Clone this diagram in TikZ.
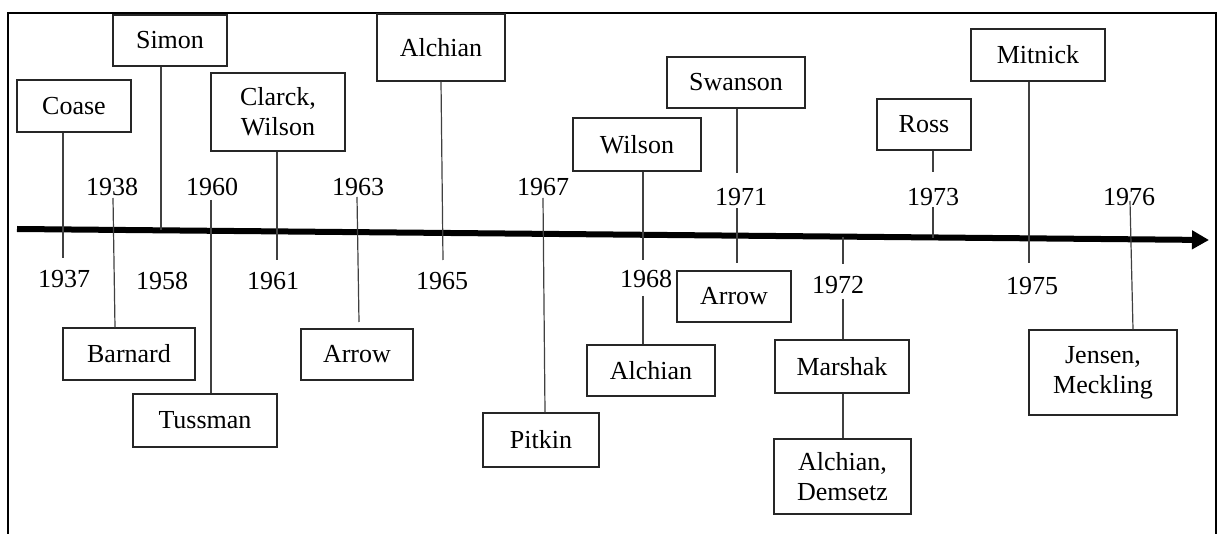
\documentclass[tikz,border=0pt]{standalone}
\usepackage{fontspec}
\setmainfont{Liberation Serif}
\usetikzlibrary{arrows.meta}
\begin{document}
\begin{tikzpicture}[x=1pt,y=-1pt,
  box/.style={draw=black!85, line width=1.2pt, inner sep=0pt, align=center,
              font=\fontsize{26}{30}\selectfont},
  yr/.style={inner sep=0pt, anchor=base, font=\fontsize{26}{30}\selectfont},
  link/.style={draw=black!75, line width=1.2pt}]
\useasboundingbox (0,0) rectangle (1218,534);

% outer frame (open at the bottom)
\draw[line width=2pt] (8,534) -- (8,13) -- (1216,13) -- (1216,534);

% time axis
\coordinate (tlA) at (17,229);
\coordinate (tlB) at (1209,240);
\draw[line width=6pt, -{Triangle[length=17pt,width=18pt]}] (tlA) -- (tlB);

% boxes above the axis
\node[box, minimum width=114pt, minimum height=52pt] (coase)    at (74,106)    {Coase};
\node[box, minimum width=114pt, minimum height=51pt] (simon)    at (170,40.5)  {Simon};
\node[box, minimum width=134pt, minimum height=78pt] (clarck)   at (278,112)   {Clarck,\\Wilson};
\node[box, minimum width=128pt, minimum height=67pt] (alchianA) at (441,47.5)  {Alchian};
\node[box, minimum width=128pt, minimum height=53pt] (wilson)   at (637,144.5) {Wilson};
\node[box, minimum width=138pt, minimum height=51pt] (swanson)  at (736,82.5)  {Swanson};
\node[box, minimum width=94pt,  minimum height=51pt] (ross)     at (924,124.5) {Ross};
\node[box, minimum width=134pt, minimum height=52pt] (mitnick)  at (1038,55)   {Mitnick};

% boxes below the axis
\node[box, minimum width=132pt, minimum height=52pt] (barnard)  at (129,354)   {Barnard};
\node[box, minimum width=144pt, minimum height=53pt] (tussman)  at (205,420.5) {Tussman};
\node[box, minimum width=112pt, minimum height=51pt] (arrowA)   at (357,354.5) {Arrow};
\node[box, minimum width=116pt, minimum height=54pt] (pitkin)   at (541,440)   {Pitkin};
\node[box, minimum width=128pt, minimum height=51pt] (alchianB) at (651,370.5) {Alchian};
\node[box, minimum width=114pt, minimum height=51pt] (arrowB)   at (734,296.5) {Arrow};
\node[box, minimum width=134pt, minimum height=53pt] (marshak)  at (842,366.5) {Marshak};
\node[box, minimum width=137pt, minimum height=75pt] (alchdem)  at (842.5,476.5) {Alchian,\\Demsetz};
\node[box, minimum width=148pt, minimum height=85pt] (jensen)   at (1103,372.5) {Jensen,\\Meckling};

% years
\node[yr] (y1937) at (64,288)   {1937};
\node[yr] (y1938) at (112,196)  {1938};
\node[yr] (y1958) at (162,290)  {1958};
\node[yr] (y1960) at (212,196)  {1960};
\node[yr] (y1961) at (273,290)  {1961};
\node[yr] (y1963) at (358,196)  {1963};
\node[yr] (y1965) at (442,290)  {1965};
\node[yr] (y1967) at (543,196)  {1967};
\node[yr] (y1968) at (646,288)  {1968};
\node[yr] (y1971) at (741,206)  {1971};
\node[yr] (y1972) at (838,294)  {1972};
\node[yr] (y1973) at (933,206)  {1973};
\node[yr] (y1975) at (1032,295) {1975};
\node[yr] (y1976) at (1129,206) {1976};

% connector end points
\coordinate (c37)  at (63,258);
\coordinate (c58)  at (161,230);
\coordinate (t38)  at (113,198);
\coordinate (b38)  at (115,0);
\coordinate (t60)  at (211,200);
\coordinate (c61)  at (277,260);
\coordinate (t63)  at (357,197);
\coordinate (c63)  at (359,322);
\coordinate (c65)  at (443,260);
\coordinate (x65)  at (441,0);
\coordinate (t67)  at (543,198);
\coordinate (b67)  at (545,0);
\coordinate (c68)  at (643,260);
\coordinate (t68)  at (643,296);
\coordinate (c71a) at (737,173);
\coordinate (t71)  at (737,208);
\coordinate (c71b) at (737,263);
\coordinate (a72)  at (843,237);
\coordinate (c72)  at (843,264);
\coordinate (t72)  at (843,299);
\coordinate (c73a) at (933,172);
\coordinate (t73)  at (933,207);
\coordinate (c73b) at (933,238);
\coordinate (c75)  at (1029,263);
\coordinate (t76)  at (1130,201);
\coordinate (b76)  at (1133,0);

% connectors
\draw[link] (coase.south -| c37) -- (c37);
\draw[link] (simon.south -| c58) -- (c58);
\draw[link] (t38) -- (barnard.north -| b38);
\draw[link] (t60) -- (tussman.north -| t60);
\draw[link] (clarck.south -| c61) -- (c61);
\draw[link] (t63) -- (c63);
\draw[link] (alchianA.south -| x65) -- (c65);
\draw[link] (t67) -- (pitkin.north -| b67);
\draw[link] (wilson.south -| c68) -- (c68);
\draw[link] (t68) -- (alchianB.north -| t68);
\draw[link] (swanson.south -| c71a) -- (c71a);
\draw[link] (t71) -- (c71b);
\draw[link] (a72) -- (c72);
\draw[link] (t72) -- (marshak.north -| t72);
\draw[link] (marshak.south -| t72) -- (alchdem.north -| t72);
\draw[link] (ross.south -| c73a) -- (c73a);
\draw[link] (t73) -- (c73b);
\draw[link] (mitnick.south -| c75) -- (c75);
\draw[link] (t76) -- (jensen.north -| b76);
\end{tikzpicture}
\end{document}
